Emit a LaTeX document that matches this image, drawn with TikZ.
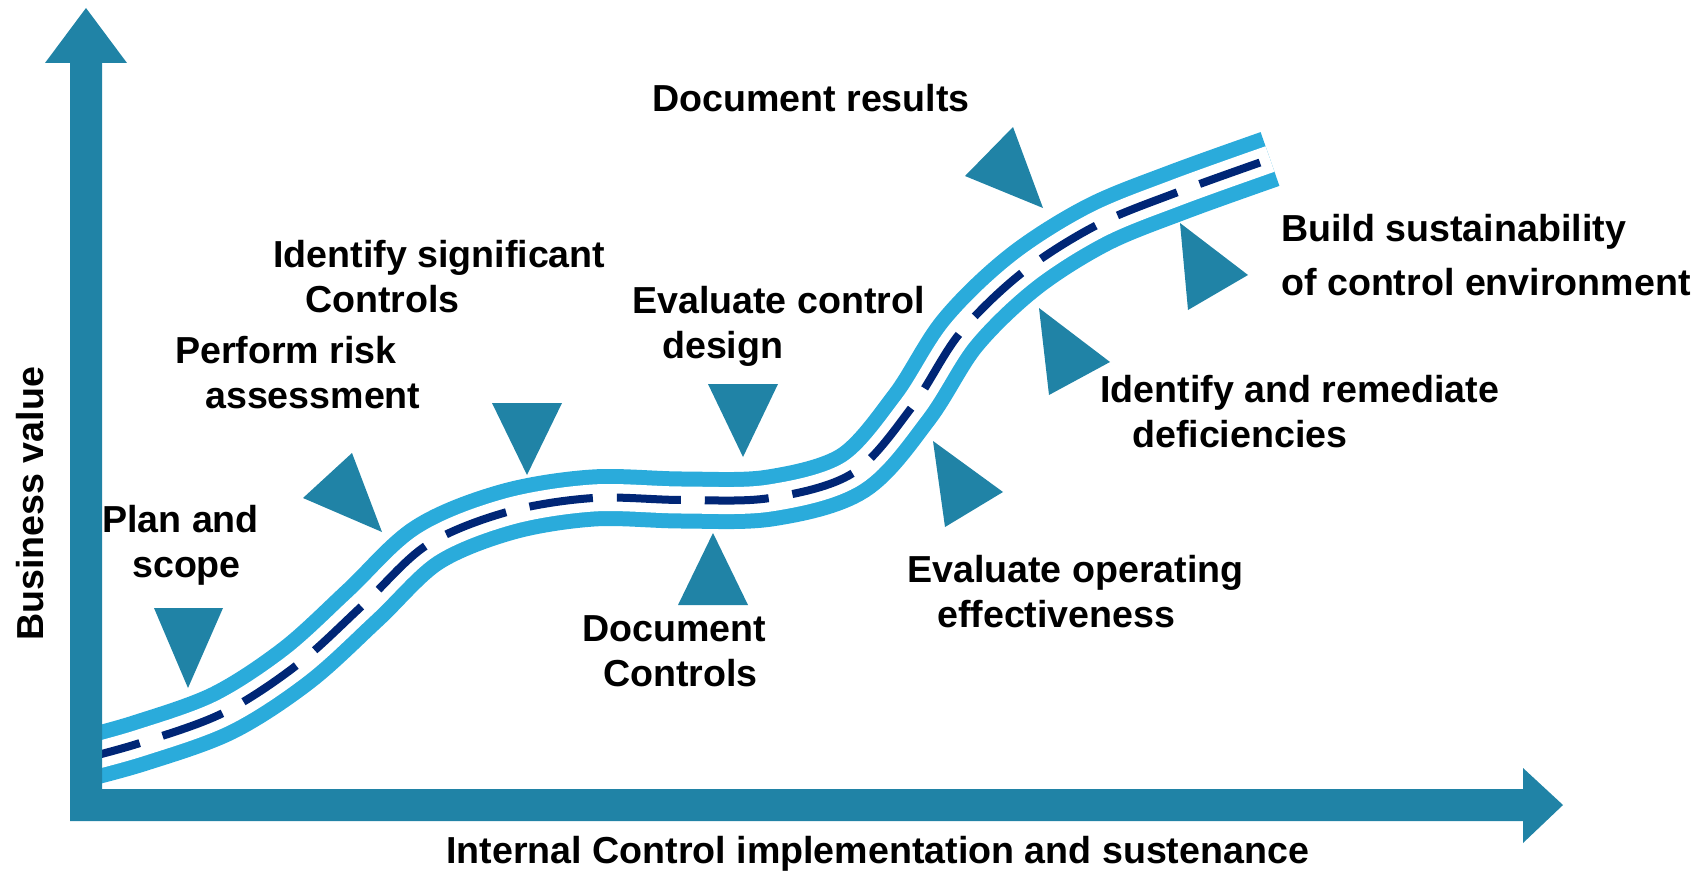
\documentclass[tikz,border=0pt]{standalone}
\usepackage{fontspec}
\setmainfont{Liberation Sans}
\definecolor{axisblue}{HTML}{2083A6}
\definecolor{roadblue}{HTML}{2AABDB}
\definecolor{lanenavy}{HTML}{002676}
\begin{document}
\begin{tikzpicture}[x=1pt,y=-1pt,
  txt/.style={font=\bfseries\fontsize{37.6}{45}\selectfont, inner sep=0pt,
              align=left, anchor=base west},
  marker/.style={fill=axisblue},
  road/.style={draw=roadblue, line width=57pt,
               postaction={draw=white, line width=27pt},
               postaction={draw=lanenavy, line width=8pt, dash pattern=on 64pt off 24pt}}]
\useasboundingbox (0,0) rectangle (1705,875);

% the road: two light lanes with a dashed centre line
\draw[road] plot[smooth, tension=0.55] coordinates {
  (78,760) (140,743) (223,713) (297,665) (363,605) (427,545) (507,512)
  (593,498) (682,500) (770,498) (853,473) (912,407) (960,333) (1023,272)
  (1097,225) (1178,192) (1270,159)};

% axes drawn as one L-shaped double arrow
\coordinate (origin) at (70,821);
\coordinate (ytip) at (86,8);
\coordinate (xtip) at (1563,805);
\fill[axisblue] (origin) -- (70,63) -- (45,63) -- (ytip) -- (127,63) -- (102,63)
  -- (102,789) -- (1523,789) -- (1523,768) -- (xtip) -- (1523,843)
  -- (1523,821) -- cycle;

% milestone markers pointing at the road
\fill[marker] (154,608) -- (223,608) -- (188,688) -- cycle;
\fill[marker] (352,453) -- (303,498) -- (382,532) -- cycle;
\fill[marker] (492,403) -- (562,403) -- (527,475) -- cycle;
\fill[marker] (708,384) -- (778,384) -- (743,457) -- cycle;
\fill[marker] (713,533) -- (678,605) -- (748,605) -- cycle;
\fill[marker] (933,441) -- (1003,492) -- (945,527) -- cycle;
\fill[marker] (1039,308) -- (1110,362) -- (1049,395) -- cycle;
\fill[marker] (1180,223) -- (1248,275) -- (1188,310) -- cycle;
\fill[marker] (1013,127) -- (965,176) -- (1043,208) -- cycle;

% milestone labels (anchored at the baseline of their last line)
\node[txt] (plan) at (102,577) {Plan and\\\hspace*{30pt}scope};
\node[txt] (risk) at (175,408) {Perform risk\\\hspace*{30pt}assessment};
\node[txt] (sig) at (273,312) {Identify significant\\\hspace*{32pt}Controls};
\node[txt] (design) at (632,358) {Evaluate control\\\hspace*{30pt}design};
\node[txt] (results) at (652,111) {Document results};
\node[txt, font=\bfseries\fontsize{37.6}{54}\selectfont] (sustain) at (1281,295)
  {Build sustainability\\of control environment};
\node[txt] (remed) at (1100,447) {Identify and remediate\\\hspace*{32pt}deficiencies};
\node[txt] (opeff) at (907,627) {Evaluate operating\\\hspace*{30pt}effectiveness};
\node[txt] (doc) at (582,686) {Document\\\hspace*{21pt}Controls};

% axis titles
\node[txt] (xlab) at (446,863) {Internal Control implementation and sustenance};
\node[txt, rotate=90] (ylab) at (43,641) {Business value};
\end{tikzpicture}
\end{document}
